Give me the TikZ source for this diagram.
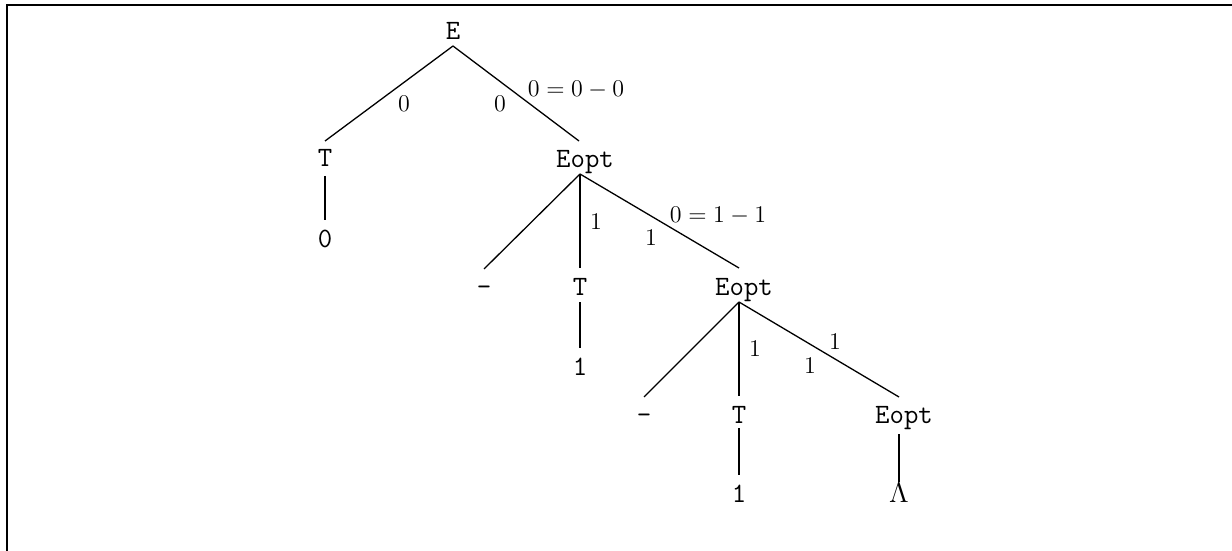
\documentclass[tikz,border=0pt]{standalone}
\begin{document}
\begin{tikzpicture}[x=0.5pt,y=-0.5pt,
  tt/.style={inner sep=0pt,anchor=base,font=\fontsize{14}{16}\selectfont\ttfamily},
  lab/.style={inner sep=0pt,anchor=base,font=\fontsize{13}{15}\selectfont},
  diag/.style={line width=0.65pt},
  vert/.style={line width=1.3pt},
  frame/.style={line width=1pt}]
\useasboundingbox (0,0) rectangle (1232,551);
% frame (partially visible)
\coordinate (fbl) at (7,551);
\coordinate (ftl) at (7,5);
\coordinate (ftr) at (1232,5);
\draw[frame] (fbl) -- (ftl) -- (ftr);
% nodes
\node[tt] (E) at (453,40) {E};
\node[tt] (T1) at (325,167) {T};
\node[tt] (eopt1) at (585,168) {Eopt};
\node[tt] (zero) at (325,247) {0};
\node[tt] (minus1) at (484,295) {-};
\node[tt] (T2) at (580,295) {T};
\node[tt] (eopt2) at (744,295) {Eopt};
\node[tt] (one1) at (580,375) {1};
\node[tt] (minus2) at (644,423) {-};
\node[tt] (T3) at (739,423) {T};
\node[tt] (eopt3) at (904,423) {Eopt};
\node[tt] (one2) at (739,502) {1};
\node[lab,font=\fontsize{14.5}{16}\selectfont] (lambda) at (899,502) {$\Lambda$};
% labels
\node[lab] (l1) at (404,112) {$0$};
\node[lab] (l2) at (500,112) {$0$};
\node[lab] (l3) at (576,97) {$0=0-0$};
\node[lab] (l4) at (596,229) {$1$};
\node[lab] (l5) at (651,245) {$1$};
\node[lab] (l6) at (718,222) {$0=1-1$};
\node[lab] (l7) at (755,356) {$1$};
\node[lab] (l8) at (810,373) {$1$};
\node[lab] (l9) at (835,349) {$1$};
% edges
\draw[diag] ([yshift=-3pt]E.base) -- ([yshift=13pt]T1.base);
\draw[diag] ([yshift=-3pt]E.base) -- ([xshift=-3pt,yshift=13.5pt]eopt1.base);
\draw[vert] ([yshift=-4.5pt]T1.base) -- ([yshift=13.5pt]zero.base);
\draw[diag] ([xshift=-2.5pt,yshift=-3pt]eopt1.base) -- ([yshift=13pt]minus1.base);
\draw[vert] ([xshift=-2.5pt,yshift=-3pt]eopt1.base) -- ([yshift=13.5pt]T2.base);
\draw[diag] ([xshift=-2.5pt,yshift=-3pt]eopt1.base) -- ([xshift=-2.5pt,yshift=13.5pt]eopt2.base);
\draw[vert] ([yshift=-3.5pt]T2.base) -- ([yshift=13.5pt]one1.base);
\draw[diag] ([xshift=-2.5pt,yshift=-3.5pt]eopt2.base) -- ([yshift=13pt]minus2.base);
\draw[vert] ([xshift=-2.5pt,yshift=-3.5pt]eopt2.base) -- ([yshift=13.5pt]T3.base);
\draw[diag] ([xshift=-2.5pt,yshift=-3.5pt]eopt2.base) -- ([xshift=-2.5pt,yshift=13pt]eopt3.base);
\draw[vert] ([yshift=-2.5pt]T3.base) -- ([yshift=13.5pt]one2.base);
\draw[vert] ([xshift=-2.5pt,yshift=-5.5pt]eopt3.base) -- ([yshift=9.8pt]lambda.base);
\end{tikzpicture}
\end{document}
